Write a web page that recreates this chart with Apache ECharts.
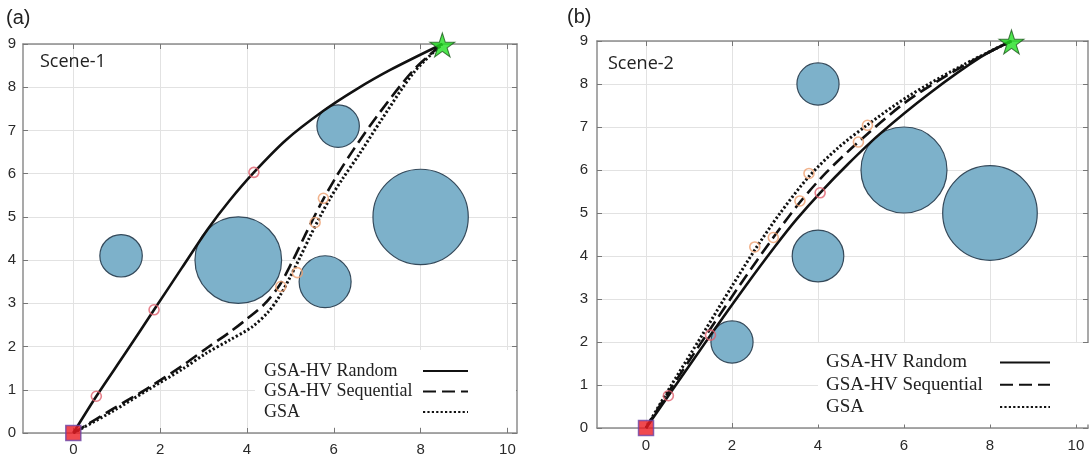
<!DOCTYPE html>
<html>
<head>
<meta charset="utf-8">
<script src="https://cdn.jsdelivr.net/npm/echarts@6.0.0/dist/echarts.min.js"></script>
<style>
html, body { margin: 0; padding: 0; background: #fff; }
#chart { width: 1091px; height: 459px; }
</style>
</head>
<body>
<div id="chart"></div>
<script>
// ---------- data ----------
const xTicks = [0, 2, 4, 6, 8, 10];
const yTicks = [0, 1, 2, 3, 4, 5, 6, 7, 8, 9];
const seriesNames = ['GSA-HV Random', 'GSA-HV Sequential', 'GSA'];
const panelLabels = ['(a)', '(b)'];
const sceneLabels = ['Scene-1', 'Scene-2'];
const startPoint = [0, 0];
const goalPoint = [8.5, 9];

// Scene 1
const scene1ObstacleX = [1.1, 3.8, 6.1, 5.8, 8.0];
const scene1ObstacleY = [4.1, 4.0, 7.1, 3.5, 5.0];
const scene1ObstacleR = [0.49, 1.0, 0.49, 0.6, 1.1];
const scene1Random = [[0,0],[0.53,0.85],[1.2,1.85],[1.86,2.85],[2.5,3.82],[3.1,4.72],[3.6,5.38],[4.16,6.03],[4.9,6.78],[5.77,7.46],[6.5,7.94],[7.3,8.4],[8.5,9]];
const scene1Sequential = [[0,0],[0.9,0.55],[1.72,1.04],[2.5,1.55],[3.07,1.96],[3.6,2.33],[4.0,2.64],[4.4,2.98],[4.75,3.42],[5.05,3.98],[5.35,4.6],[5.7,5.3],[6.05,5.92],[6.45,6.55],[7.04,7.39],[7.83,8.39],[8.5,9]];
const scene1GSA = [[0,0],[0.9,0.5],[1.72,1.0],[2.5,1.47],[3.07,1.85],[3.6,2.15],[4.11,2.45],[4.49,2.8],[4.76,3.18],[4.99,3.6],[5.22,4.06],[5.45,4.54],[5.68,5.0],[5.91,5.42],[6.2,5.88],[6.6,6.47],[7.1,7.25],[7.85,8.35],[8.5,9]];
const scene1RandomWaypoints = [[0.53,0.85],[1.86,2.85],[4.16,6.03]];
const scene1OtherWaypoints = [[4.78,3.39],[5.16,3.71],[5.57,4.87],[5.76,5.43]];

// Scene 2
const scene2ObstacleX = [4.0, 4.0, 2.0, 6.0, 8.0];
const scene2ObstacleY = [8.0, 4.0, 2.0, 6.0, 5.0];
const scene2ObstacleR = [0.49, 0.6, 0.49, 1.0, 1.1];
const scene2Random = [[0,0],[0.52,0.75],[1.5,2.16],[2.3,3.28],[3.0,4.22],[3.5,4.85],[4.05,5.47],[4.7,6.14],[5.44,6.84],[6.59,7.78],[7.79,8.63],[8.5,9]];
const scene2Sequential = [[0,0],[0.5,0.8],[1.4,2.16],[2.2,3.35],[2.96,4.43],[3.58,5.25],[4.2,5.95],[4.94,6.65],[6.0,7.55],[7.0,8.2],[7.8,8.65],[8.5,9]];
const scene2GSA = [[0,0],[0.5,0.85],[1.33,2.2],[2.0,3.3],[2.53,4.14],[3.1,4.97],[3.79,5.85],[4.45,6.5],[5.15,7.05],[6.11,7.72],[7.39,8.45],[8.5,9]];
const scene2RandomWaypoints = [[0.52,0.75],[1.5,2.16],[4.05,5.47]];
const scene2OtherWaypoints = [[2.53,4.21],[2.96,4.43],[3.58,5.28],[3.79,5.92],[4.94,6.65],[5.15,7.04]];

// ---------- styling / layout ----------
const FRAME = '#8c8c8c';
const GRIDLINE = '#e2e2e2';
const LABEL = '#2a2a2a';
const STAR = 'path://M50 0L61.23 34.55L97.55 34.55L68.17 55.9L79.39 90.45L50 69.1L20.61 90.45L31.83 55.9L2.45 34.55L38.77 34.55Z';

const panels = [
  { grid: { left: 23, top: 44, width: 494, height: 389 }, xMin: -1.159, xMax: 10.22,
    obsX: scene1ObstacleX, obsY: scene1ObstacleY, obsR: scene1ObstacleR,
    lines: [scene1Random, scene1Sequential, scene1GSA],
    redWp: scene1RandomWaypoints, orangeWp: scene1OtherWaypoints,
    legend: { left: 255, top: 350, padding: [12, 47, 6, 9], textW: 154, fs: 18, gap: 2.5, iconW: 45 },
    panelLabel: { left: 6, top: 8 }, scene: { left: 40, top: 53 }, yMargin: 7, xMargin: 9 },
  { grid: { left: 597, top: 41, width: 491, height: 387 }, xMin: -1.14, xMax: 10.28,
    obsX: scene2ObstacleX, obsY: scene2ObstacleY, obsR: scene2ObstacleR,
    lines: [scene2Random, scene2Sequential, scene2GSA],
    redWp: scene2RandomWaypoints, orangeWp: scene2OtherWaypoints,
    legend: { left: 818, top: 343, padding: [10, 38, 8, 8], textW: 169, fs: 19, gap: 3.3, iconW: 50 },
    panelLabel: { left: 567, top: 7 }, scene: { left: 608, top: 55 }, yMargin: 9, xMargin: 10 }
];

const lineStyles = [
  { type: 'solid', width: 2.6 },
  { type: [13, 6], width: 2.6 },
  { type: [2.2, 2.2], width: 3 }
];

const grids = [], xAxes = [], yAxes = [], series = [], legends = [], titles = [];

panels.forEach((p, i) => {
  grids.push(Object.assign({ containLabel: false }, p.grid));
  const axisFont = { color: LABEL, fontSize: 15, fontFamily: 'Liberation Sans, Arial, sans-serif' };
  xAxes.push({
    type: 'value', gridIndex: i, position: 'bottom', min: p.xMin, max: p.xMax,
    axisLine: { show: true, onZero: false, lineStyle: { color: FRAME, width: 1.5 } },
    axisTick: { show: true, inside: true, length: 5, customValues: xTicks, lineStyle: { color: '#777' } },
    axisLabel: Object.assign({ customValues: xTicks, margin: p.xMargin }, axisFont),
    splitLine: { show: true, lineStyle: { color: GRIDLINE, width: 1 } }
  });
  xAxes.push({
    type: 'value', gridIndex: i, position: 'top', min: p.xMin, max: p.xMax,
    axisLine: { show: true, onZero: false, lineStyle: { color: FRAME, width: 1.5 } },
    axisTick: { show: true, inside: true, length: 5, customValues: xTicks, lineStyle: { color: '#777' } },
    axisLabel: { show: false },
    splitLine: { show: false }
  });
  yAxes.push({
    type: 'value', gridIndex: i, position: 'left', min: 0, max: 9, interval: 1,
    axisLine: { show: true, onZero: false, lineStyle: { color: FRAME, width: 1.5 } },
    axisTick: { show: true, inside: true, length: 5, lineStyle: { color: '#777' } },
    axisLabel: Object.assign({ customValues: yTicks, margin: p.yMargin }, axisFont),
    splitLine: { show: true, lineStyle: { color: GRIDLINE, width: 1 } }
  });
  yAxes.push({
    type: 'value', gridIndex: i, position: 'right', min: 0, max: 9, interval: 1,
    axisLine: { show: true, onZero: false, lineStyle: { color: FRAME, width: 1.5 } },
    axisTick: { show: true, inside: true, length: 5, lineStyle: { color: '#777' } },
    axisLabel: { show: false },
    splitLine: { show: false }
  });
  const xi = i * 2, yi = i * 2;

  const obstacles = p.obsX.map((x, k) => [x, p.obsY[k], p.obsR[k]]);
  series.push({
    type: 'custom', name: 'obstacles' + (i + 1), xAxisIndex: xi, yAxisIndex: yi,
    data: obstacles, encode: { x: 0, y: 1 }, z: 2, silent: true,
    renderItem: function (params, api) {
      const c = api.coord([api.value(0), api.value(1)]);
      const s = api.size([api.value(2), api.value(2)]);
      return {
        type: 'circle',
        shape: { cx: c[0], cy: c[1], r: (s[0] + s[1]) / 2 },
        style: { fill: '#7db1ca', stroke: '#34495a', lineWidth: 1.2 }
      };
    }
  });

  seriesNames.forEach((name, k) => {
    series.push({
      type: 'line', name: name, xAxisIndex: xi, yAxisIndex: yi,
      data: p.lines[k], smooth: 0.3, symbol: 'none', z: 3,
      lineStyle: { color: '#111', width: lineStyles[k].width, type: lineStyles[k].type },
      itemStyle: { color: '#111' }
    });
  });

  series.push({
    type: 'scatter', name: 'waypointsRandom' + (i + 1), xAxisIndex: xi, yAxisIndex: yi,
    data: p.redWp, symbol: 'circle', symbolSize: 10, z: 4,
    itemStyle: { color: 'rgba(255,255,255,0)', borderColor: '#e0606e', borderWidth: 1.6 }
  });
  series.push({
    type: 'scatter', name: 'waypointsOther' + (i + 1), xAxisIndex: xi, yAxisIndex: yi,
    data: p.orangeWp, symbol: 'circle', symbolSize: 10, z: 4,
    itemStyle: { color: 'rgba(255,255,255,0)', borderColor: '#eea070', borderWidth: 1.6 }
  });
  series.push({
    type: 'scatter', name: 'start' + (i + 1), xAxisIndex: xi, yAxisIndex: yi,
    data: [startPoint], symbol: 'rect', symbolSize: 15, z: 5,
    itemStyle: { color: '#ec1b23', borderColor: '#6a45a8', borderWidth: 1.5 }
  });
  series.push({
    type: 'scatter', name: 'goal' + (i + 1), xAxisIndex: xi, yAxisIndex: yi,
    data: [goalPoint], symbol: STAR, symbolSize: [25, 24], symbolOffset: [0, 1], z: 5,
    itemStyle: { color: '#22e022', borderColor: '#1d5a1d', borderWidth: 1 }
  });

  legends.push({
    data: seriesNames, orient: 'vertical', align: 'right',
    left: p.legend.left, top: p.legend.top, padding: p.legend.padding,
    backgroundColor: '#ffffff', itemGap: p.legend.gap, itemWidth: p.legend.iconW, itemHeight: 14,
    selectedMode: false,
    itemStyle: { color: 'rgba(0,0,0,0)', borderWidth: 0, opacity: 0 },
    formatter: function (name) { return '{t|' + name + '}'; },
    textStyle: {
      rich: { t: { width: p.legend.textW, align: 'left', fontFamily: 'Liberation Serif, Times New Roman, serif',
                   fontSize: p.legend.fs, lineHeight: 20, color: '#222' } }
    }
  });

  titles.push({
    text: panelLabels[i], left: p.panelLabel.left, top: p.panelLabel.top, padding: 0,
    textStyle: { fontFamily: 'Liberation Sans, Arial, sans-serif', fontSize: 20, fontWeight: 'normal', color: '#222' }
  });
  titles.push({
    text: sceneLabels[i], left: p.scene.left, top: p.scene.top, padding: 0,
    textStyle: { fontFamily: 'Open Sans, sans-serif', fontSize: 18, fontWeight: 'normal', color: '#222' }
  });
});

const chart = echarts.init(document.getElementById('chart'), null, { renderer: 'canvas' });
chart.setOption({
  animation: false,
  backgroundColor: '#ffffff',
  title: titles,
  grid: grids,
  xAxis: xAxes,
  yAxis: yAxes,
  legend: legends,
  series: series
});
</script>
</body>
</html>
